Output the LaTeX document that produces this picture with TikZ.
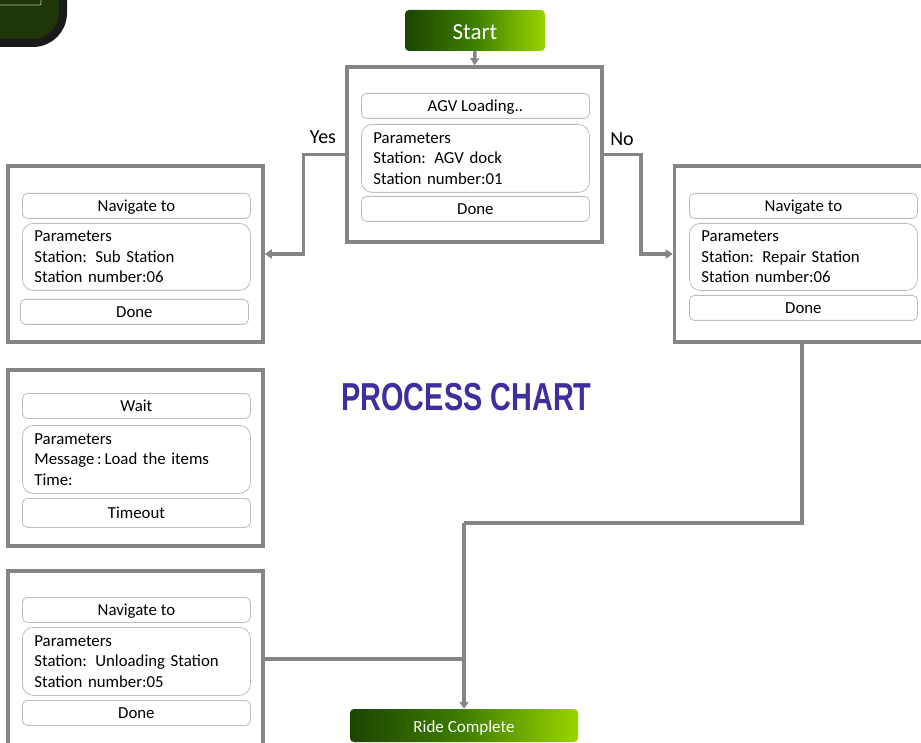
\documentclass[tikz,border=0pt]{standalone}
\usepackage{fontspec}
\setmainfont{Carlito}
\newfontfamily\titlefont{Liberation Sans}
\usetikzlibrary{arrows.meta}
\definecolor{linegray}{HTML}{858585}
\definecolor{innergray}{HTML}{BDBDBD}
\definecolor{gdark}{HTML}{1B4500}
\definecolor{gmid}{HTML}{3F7F00}
\definecolor{glight}{HTML}{9AD400}
\definecolor{ptitle}{HTML}{3D2F9E}
\definecolor{cornerfill}{HTML}{1F3608}
\definecolor{cornerline}{HTML}{1A1A1A}
\tikzset{
  outerbox/.style={draw=linegray, line width=3.6pt, fill=white, minimum width=255pt, minimum height=176pt, inner sep=0pt},
  innerbox/.style={draw=innergray, line width=0.8pt, rounded corners=5pt, anchor=north west, minimum width=228pt, minimum height=25pt, inner sep=0pt, text height=12pt, text depth=1pt, font=\fontsize{16.8}{19}\selectfont},
  parambox/.style={draw=innergray, line width=0.8pt, rounded corners=11pt, anchor=north west, minimum width=228pt, minimum height=67pt, text width=204pt, inner xsep=12pt, inner ysep=0pt, align=left, font=\fontsize{16.8}{20.6}\selectfont},
  greenbox/.style={rounded corners=4pt, left color=gdark, right color=glight, middle color=gmid, text=white, inner sep=0pt},
  conn/.style={draw=linegray, line width=3.4pt},
  arr/.style={conn, -{Triangle[width=9pt,length=7pt]}},
  lbl/.style={font=\fontsize{20}{23}\selectfont}
}
\begin{document}
\begin{tikzpicture}[x=1pt,y=-1pt]
\useasboundingbox (0,0) rectangle (921,743);
\begin{scope}
\clip (0,0) rectangle (921,743);
% corner decoration
\draw[line width=8pt, draw=cornerline, fill=cornerfill, rounded corners=30pt] (-80,-80) rectangle (63,43);
\draw[draw=cornerline!30!white, line width=0.8pt, rounded corners=1pt] (-60,-60) rectangle (41,5);

% outer boxes
\node[outerbox, minimum height=175pt] (agv) at (474.5,154.5) {};
\node[outerbox] (lb1) at (135.5,254) {};
\node[outerbox] (rb) at (802,254) {};
\node[outerbox] (lb2) at (135.5,458) {};
\node[outerbox] (lb3) at (135.5,659) {};

% start / end
\node[greenbox, minimum width=140pt, minimum height=41pt, text height=19pt, text depth=0pt, font=\fontsize{23}{26}\selectfont] (start) at (475,30.5) {Start};
\node[greenbox, minimum width=228pt, minimum height=33pt, text height=13pt, text depth=0pt, font=\fontsize{17}{20}\selectfont] (ride) at (464,725.5) {Ride Complete};

% AGV box contents
\node[innerbox] (agvt) at (361,93) {AGV Loading..};
\node[parambox, minimum height=68pt] (agvp) at (361,124) {Parameters\\Station: AGV dock\\Station number:01};
\node[innerbox] (agvd) at (361,196) {Done};

% left box 1
\node[innerbox] (l1t) at (22,193) {Navigate to};
\node[parambox] (l1p) at (22,223) {Parameters\\Station: Sub Station\\Station number:06};
\node[innerbox] (l1d) at (20,299) {Done};

% right box
\node[innerbox] (rbt) at (689,193) {Navigate to};
\node[parambox] (rbp) at (689,223) {Parameters\\Station: Repair Station\\Station number:06};
\node[innerbox] (rbd) at (689,295) {Done};

% left box 2
\node[innerbox] (l2t) at (22,393) {Wait};
\node[parambox, minimum height=68pt] (l2p) at (22,425) {Parameters\\Message\,:\,Load the items\\Time:};
\node[innerbox, minimum height=29pt] (l2d) at (22,498) {Timeout};

% left box 3
\node[innerbox] (l3t) at (22,597) {Navigate to};
\node[parambox, minimum height=68pt] (l3p) at (22,627) {Parameters\\Station: Unloading Station\\Station number:05};
\node[innerbox] (l3d) at (22,700) {Done};

% title
\node[text=ptitle, font=\titlefont\bfseries\fontsize{39}{42}\selectfont] (title) at (466.5,397) {\scalebox{0.74}[1]{PROCESS CHART}};

% labels
\node[lbl] (yes) at (323,137) {Yes};
\node[lbl] (no) at (622,139) {No};

% connectors
\draw[arr] (start.south) -- (agv.north);
\draw[arr] (agv.west) -- ++(-42,0) |- (lb1.east);
\draw[arr] (agv.east) -- ++(37,0) |- (rb.west);
\coordinate (j) at (464,523);
\draw[conn] (rb.south) |- (j);
\draw[arr] (j) -- (ride.north);
\draw[conn] (lb3.east) -- (lb3.east -| ride.north);
\end{scope}
\end{tikzpicture}
\end{document}
